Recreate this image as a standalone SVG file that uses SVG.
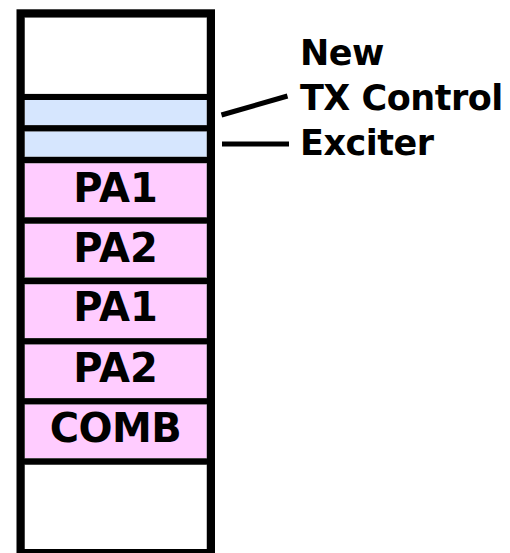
<svg xmlns="http://www.w3.org/2000/svg" width="510" height="553" viewBox="0 0 510 553">
<style>
.cell{stroke:#888;stroke-width:1}
.white{fill:#ffffff}
.blue{fill:#D6E6FE}
.pink{fill:#FFCCFF}
.sep{stroke:#000;stroke-width:6}
.lbl{font-family:"DejaVu Sans",Verdana,sans-serif;font-weight:bold;font-size:40px;fill:#000;text-anchor:middle}
.side{font-family:"DejaVu Sans",Verdana,sans-serif;font-weight:bold;font-size:35px;letter-spacing:-0.5px;fill:#000}
.conn{stroke:#000;stroke-width:5;fill:none}
</style>
<rect width="510" height="553" fill="#fff"/>
<g id="cell-top"><rect class="cell white" x="24.5" y="17.3" width="182.5" height="77"/></g>
<g id="cell-txcontrol"><rect class="cell blue" x="24.5" y="99.5" width="182.5" height="26"/></g>
<g id="cell-exciter"><rect class="cell blue" x="24.5" y="131" width="182.5" height="26"/></g>
<g id="cell-pa1a"><rect class="cell pink" x="24.5" y="163" width="182.5" height="54.5"/><text class="lbl" x="115.5" y="201.5">PA1</text></g>
<g id="cell-pa2a"><rect class="cell pink" x="24.5" y="223.5" width="182.5" height="54"/><text class="lbl" x="115.5" y="261.5">PA2</text></g>
<g id="cell-pa1b"><rect class="cell pink" x="24.5" y="284" width="182.5" height="54.5"/><text class="lbl" x="115.5" y="321">PA1</text></g>
<g id="cell-pa2b"><rect class="cell pink" x="24.5" y="344" width="182.5" height="54.5"/><text class="lbl" x="115.5" y="381.5">PA2</text></g>
<g id="cell-comb"><rect class="cell pink" x="24.5" y="404" width="182.5" height="54.5"/><text class="lbl" x="115.5" y="441.5" letter-spacing="-0.5">COMB</text></g>
<g id="cell-bottom"><rect class="cell white" x="24.5" y="464.5" width="182.5" height="85"/></g>
<g id="separators">
<line class="sep" x1="20" y1="97" x2="211" y2="97"/>
<line class="sep" x1="20" y1="128.3" x2="211" y2="128.3"/>
<line class="sep" x1="20" y1="160" x2="211" y2="160"/>
<line class="sep" x1="20" y1="220.5" x2="211" y2="220.5"/>
<line class="sep" x1="20" y1="281" x2="211" y2="281"/>
<line class="sep" x1="20" y1="341.2" x2="211" y2="341.2"/>
<line class="sep" x1="20" y1="401.2" x2="211" y2="401.2"/>
<line class="sep" x1="20" y1="461.5" x2="211" y2="461.5"/>
</g>
<g id="frame"><rect x="20.5" y="13.3" width="190.5" height="539.7" fill="none" stroke="#000" stroke-width="8"/></g>
<g id="connectors">
<line class="conn" x1="221.5" y1="115" x2="287.5" y2="96"/>
<line class="conn" x1="222" y1="144" x2="289" y2="144"/>
</g>
<g id="labels">
<text class="side" x="300" y="65">New</text>
<text class="side" x="300" y="110">TX Control</text>
<text class="side" x="300" y="155">Exciter</text>
</g>
</svg>
